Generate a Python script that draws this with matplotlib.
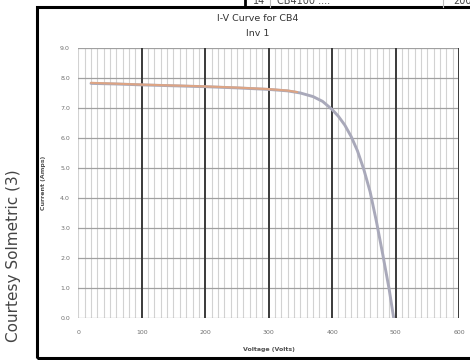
import matplotlib.pyplot as plt
import matplotlib.patches as patches
import numpy as np

# I-V sweep, measured strings for inverter 1
voltage = [20, 60, 100, 150, 200, 250, 300, 330, 350, 370, 385, 400, 410, 420, 430, 440, 450, 460, 470, 480, 490, 497]
current = [7.82, 7.80, 7.77, 7.74, 7.71, 7.67, 7.62, 7.57, 7.50, 7.38, 7.22, 6.95, 6.72, 6.43, 6.05, 5.57, 4.95, 4.2, 3.2, 2.1, 0.95, 0.0]

# second trace, overlaps the first on the flat part
voltage_b = [20, 60, 100, 150, 200, 250, 300, 330, 345]
current_b = [7.84, 7.81, 7.78, 7.75, 7.72, 7.68, 7.63, 7.58, 7.53]

x_ticks = [0, 100, 200, 300, 400, 500, 600]
y_ticks = [0.0, 1.0, 2.0, 3.0, 4.0, 5.0, 6.0, 7.0, 8.0, 9.0]

fig = plt.figure(figsize=(4.7, 3.6), dpi=100)
ax = fig.add_axes([0.1666, 0.1167, 0.81, 0.75])

# grid: light lines every 10 V, dark every 100 V, grey every 1 A
for v in range(0, 601, 10):
    if v % 100 == 0 and v > 0:
        ax.axvline(v, color='#3a3a3a', lw=1.4, zorder=1)
    else:
        ax.axvline(v, color='#d2d2d2', lw=0.8, zorder=0)
for a in y_ticks:
    ax.axhline(a, color='#a0a0a0', lw=0.9, zorder=0.5)

ax.plot(voltage, current, color='#a9a9ba', lw=2.1, solid_capstyle='round', zorder=3)
ax.plot(voltage_b, current_b, color='#e3a47e', lw=1.5, solid_capstyle='round', zorder=4, alpha=0.9)

ax.set_xlim(0, 600)
ax.set_ylim(0, 9)
ax.set_xticks(x_ticks)
ax.set_yticks(y_ticks)
ax.set_yticklabels([f'{t:.1f}' for t in y_ticks])
ax.tick_params(length=0, labelsize=4.5, labelcolor='#707070', pad=6)
ax.tick_params(axis='x', pad=9)
for s in ax.spines.values():
    s.set_visible(False)

ax.set_xlabel('Voltage (Volts)', fontsize=4.5, fontweight='bold', color='#505050', labelpad=8)
ax.set_ylabel('Current (Amps)', fontsize=4.5, fontweight='bold', color='#505050', labelpad=10)
fig.text(0.549, 0.948, 'I-V Curve for CB4', ha='center', va='center', fontsize=6.8, color='#333333')
fig.text(0.549, 0.906, 'Inv 1', ha='center', va='center', fontsize=6.8, color='#333333')

# outer frame around the chart
fig.patches.append(patches.Rectangle((0.0787, 0.0058), 0.96, 0.9748, transform=fig.transFigure,
                                     fill=False, edgecolor='black', lw=2.2))

# edge of a table peeking in at the top
fig.lines.append(plt.Line2D([0.522, 0.522], [0.98, 1.0], transform=fig.transFigure, color='black', lw=2))
fig.lines.append(plt.Line2D([0.575, 0.575], [0.98, 1.0], transform=fig.transFigure, color='#bbbbbb', lw=0.8))
fig.lines.append(plt.Line2D([0.943, 0.943], [0.98, 1.0], transform=fig.transFigure, color='#bbbbbb', lw=0.8))
fig.text(0.538, 0.997, '14', ha='left', va='center', fontsize=7, color='#444444')
fig.text(0.59, 0.997, 'CB4100 ....', ha='left', va='center', fontsize=7, color='#444444')
fig.text(0.965, 0.997, '200', ha='left', va='center', fontsize=7, color='#444444')

fig.text(0.029, 0.29, 'Courtesy Solmetric (3)', rotation=90, ha='center', va='center',
         fontsize=11, color='#444444')

fig.savefig('out.png', dpi=100)
